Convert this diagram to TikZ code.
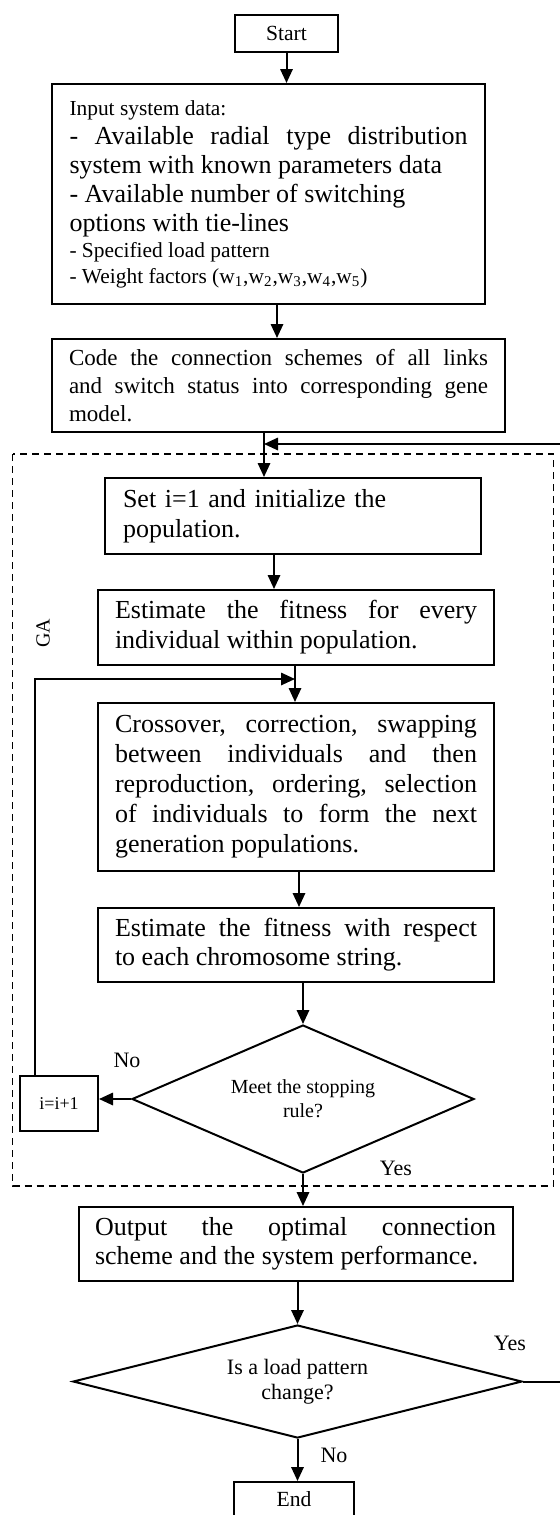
\documentclass[tikz,border=0pt]{standalone}
\usepackage{fontspec}
\setmainfont{Liberation Serif}
\usetikzlibrary{arrows.meta,positioning,shapes.geometric}
\setlength{\parindent}{0pt}
\tolerance=10000
\hbadness=10000

\begin{document}
\begin{tikzpicture}[x=0.5pt,y=-0.5pt,
	blk/.style={draw,line width=1pt,inner sep=0pt,align=justify,font=\fontsize{13}{15}\selectfont},
	dec/.style={draw,diamond,line width=1pt,inner sep=0pt,align=center},
	arr/.style={-{Triangle[length=7pt,width=6.2pt]},line width=1pt},
	lab/.style={font=\fontsize{11}{13}\selectfont},
	gabox/.style={line width=0.8pt,dash pattern=on 3.5pt off 2.5pt}
	]
	\useasboundingbox (0,0) rectangle (560,1515);
	
	\node[blk,minimum width=51.5pt,minimum height=18.5pt,align=center,font=\fontsize{10.8}{12}\selectfont] (start) at (286.5,33.5) {Start};
	\node[blk,minimum width=216.5pt,minimum height=110pt,text width=199pt] (input) at (268.5,194) {%
		{\fontsize{10.7}{13}\selectfont Input system data:\par}
		{\fontsize{13}{14.5}\selectfont - Available radial type distribution\linebreak system with known parameters data\\ - Available number of switching\\ options with tie-lines\par}
		{\fontsize{10.7}{13}\selectfont - Specified load pattern\\ - Weight factors (w\textsubscript{1},w\textsubscript{2},w\textsubscript{3},w\textsubscript{4},w\textsubscript{5})\par}};
	\node[blk,minimum width=226.5pt,minimum height=46.5pt,text width=209.5pt,font=\fontsize{11.5}{14}\selectfont] (code) at (278.5,385.5)
	{Code the connection schemes of all links\linebreak and switch status into corresponding gene\linebreak model.};
	
	% GA block
	\draw[gabox] (12.5,454) rectangle (553.5,1186);
	\node[lab,rotate=90,font=\fontsize{10}{12}\selectfont] (ga) at (43,633) {GA};
	\node[blk,minimum width=188pt,minimum height=38pt,text width=170pt,align=left] (init) at (293,516)
	{Set i=1 and initialize the\\ population.};
	\node[blk,minimum width=198pt,minimum height=37.5pt,text width=181pt] (fit1) at (296,627.5)
	{Estimate the fitness for every\linebreak individual within population.};
	\node[blk,minimum width=198pt,minimum height=84pt,text width=181pt] (cross) at (296,787)
	{Crossover, correction, swapping\linebreak between individuals and then\linebreak reproduction, ordering, selection\linebreak of individuals to form the next\linebreak generation populations.};
	\node[blk,minimum width=198pt,minimum height=37pt,text width=181pt,font=\fontsize{13}{14.5}\selectfont] (fit2) at (296,945)
	{Estimate the fitness with respect\linebreak to each chromosome string.};
	\node[dec,minimum width=171pt,minimum height=74pt,aspect=2.3,font=\fontsize{10}{12}\selectfont] (rule) at (303,1099) {Meet the stopping\\ rule?};
	\node[blk,minimum width=39pt,minimum height=27.5pt,align=center,font=\fontsize{9}{11}\selectfont] (inc) at (59,1103.5) {i=i+1};
	\node[lab] (no1) at (127,1060) {No};
	\node[lab] (yes1) at (396,1168) {Yes};
	
	\node[blk,minimum width=217pt,minimum height=37pt,text width=200.5pt,font=\fontsize{13}{14.5}\selectfont] (out) at (295.5,1244)
	{Output the optimal connection\linebreak scheme and the system performance.};
	\node[dec,minimum width=224.5pt,minimum height=56.5pt,aspect=4,font=\fontsize{11}{12.5}\selectfont] (change) at (297.5,1381.5) {Is a load pattern\\ change?};
	\node[lab] (yes2) at (510,1343) {Yes};
	\node[lab] (no2) at (334,1455) {No};
	\node[blk,minimum width=59.75pt,minimum height=17pt,align=center,font=\fontsize{10.8}{12}\selectfont] (fin) at (294,1499) {End};
	
	\coordinate (join) at (264,444);
	\coordinate (loopin) at (295,679);
	
	\draw[arr] (start.south) -- (start.south |- input.north);
	\draw[arr] (input.south -| 277,0) -- (code.north -| 277,0);
	\draw[arr] (code.south -| join) -- (init.north -| join);
	\draw[arr] (init.south -| 274,0) -- (fit1.north -| 274,0);
	\draw[arr] (fit1.south -| loopin) -- (cross.north -| loopin);
	\draw[arr] (cross.south -| 299,0) -- (fit2.north -| 299,0);
	\draw[arr] (fit2.south -| rule.north) -- (rule.north);
	\draw[arr] (rule.west) -- (rule.west -| inc.east);
	\draw[arr] (inc.north -| 35,0) |- (loopin);
	\draw[arr] (rule.south) -- (rule.south |- out.north);
	\draw[arr] (out.south -| change.north) -- (change.north);
	\draw[arr] (change.south) -- (change.south |- fin.north);
	\draw[arr] (change.east) -| (562,444) -- (join);
\end{tikzpicture}
\end{document}
